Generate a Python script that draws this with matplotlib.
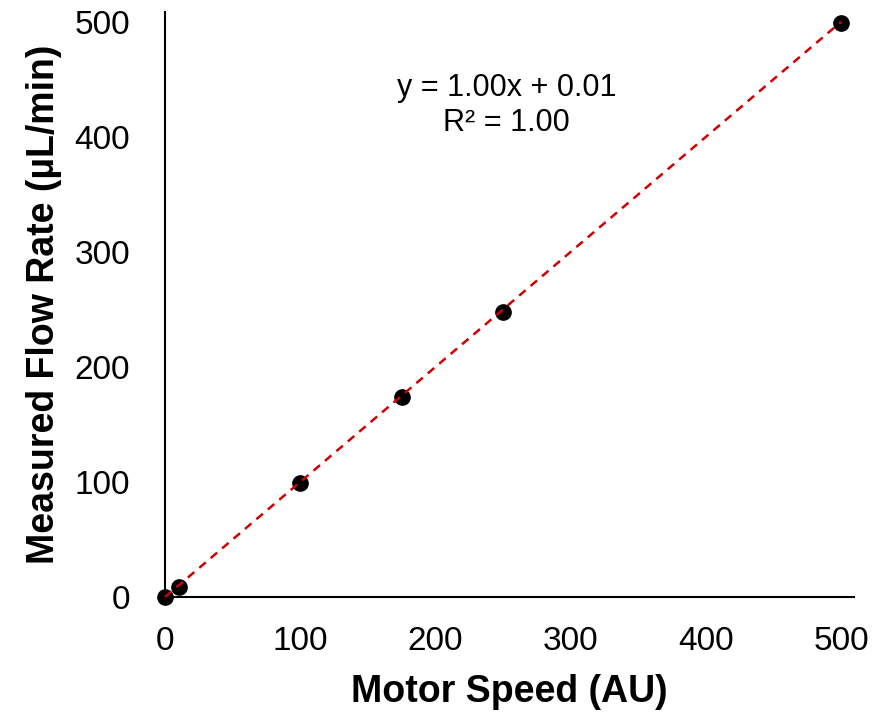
import numpy as np
import matplotlib.pyplot as plt

plt.rcParams['font.family'] = ['Liberation Sans', 'DejaVu Sans']

# calibration points
motor_speed = [0, 10, 100, 175, 250, 500]
flow_rate = [0, 9, 99, 174, 248, 499]
ticks = [0, 100, 200, 300, 400, 500]

# linear trendline
slope = 1.00
intercept = 0.01
r_squared = 1.00

fig = plt.figure(figsize=(8.75, 7.12), dpi=100)
ax = fig.add_axes([165 / 875, 1 - 597 / 712, (854 - 165) / 875, (597 - 12) / 712])

ax.plot(motor_speed, flow_rate, 'o', color='black', markersize=11, zorder=2,
        clip_on=False)

fit_x = np.array([0, 500])
ax.plot(fit_x, slope * fit_x + intercept, color='#D00000', linewidth=1.8,
        linestyle=(0, (3.4, 2.6)), zorder=3, clip_on=False)

ax.text(0.496, 0.84, f"y = {slope:.2f}x + {intercept:.2f}\nR² = {r_squared:.2f}",
        transform=ax.transAxes, ha='center', va='center', fontsize=22,
        linespacing=1.25)

ax.set_xlim(0, 509.5)
ax.set_ylim(0, 508.5)
ax.set_xticks(ticks)
ax.set_yticks(ticks)
ax.tick_params(length=0, labelsize=24)
ax.tick_params(axis='x', pad=21)
ax.tick_params(axis='y', pad=25)

for side in ['top', 'right']:
    ax.spines[side].set_visible(False)
for side in ['left', 'bottom']:
    ax.spines[side].set_linewidth(1.5)

ax.set_xlabel("Motor Speed (AU)", fontsize=27, fontweight='bold', labelpad=12)
ax.set_ylabel("Measured Flow Rate (µL/min)", fontsize=27, fontweight='bold', labelpad=9)

fig.savefig("out.png", dpi=100)
